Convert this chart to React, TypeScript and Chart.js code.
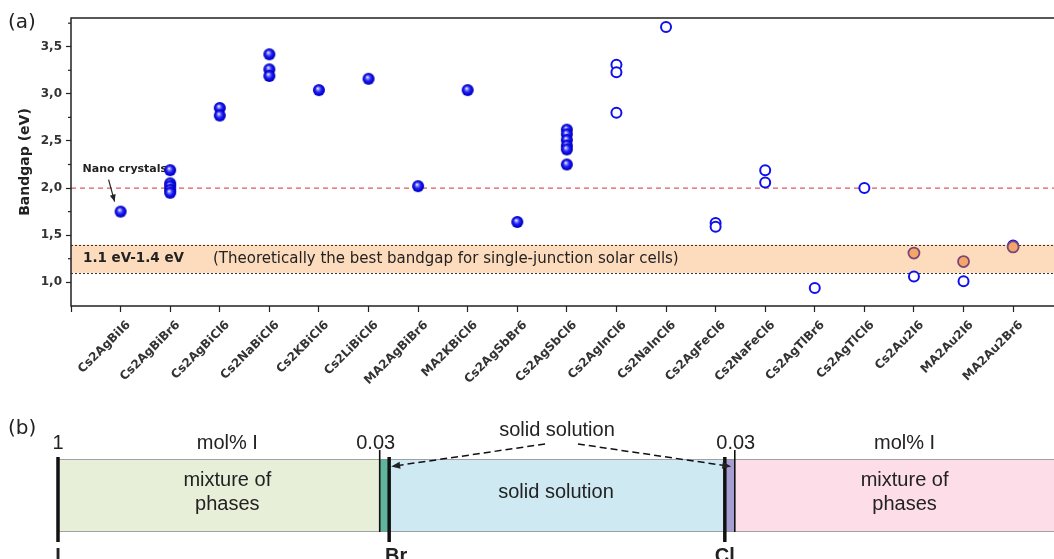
import React, { useEffect, useRef } from 'react';
import { Chart, registerables } from 'chart.js';

Chart.register(...registerables);

// ---------------- Panel (a) data ----------------
const categories = [
  'Cs2AgBiI6', 'Cs2AgBiBr6', 'Cs2AgBiCl6', 'Cs2NaBiCl6', 'Cs2KBiCl6', 'Cs2LiBiCl6',
  'MA2AgBiBr6', 'MA2KBiCl6', 'Cs2AgSbBr6', 'Cs2AgSbCl6', 'Cs2AgInCl6', 'Cs2NaInCl6',
  'Cs2AgFeCl6', 'Cs2NaFeCl6', 'Cs2AgTlBr6', 'Cs2AgTlCl6', 'Cs2Au2I6', 'MA2Au2I6', 'MA2Au2Br6',
];

// filled (sphere) markers, one list per category
const solidBandgaps: number[][] = [
  [1.75], [2.19, 2.05, 2.02, 1.98, 1.95], [2.85, 2.77], [3.42, 3.26, 3.19], [3.04], [3.16],
  [2.02], [3.04], [1.64], [2.62, 2.57, 2.51, 2.45, 2.41, 2.25],
  [], [], [], [], [], [], [], [], [],
];

// open circle markers
const openBandgaps: number[][] = [
  [], [], [], [], [], [], [], [], [], [],
  [3.31, 3.23, 2.80], [3.71], [1.63, 1.59], [2.19, 2.06], [0.94], [2.0], [1.06], [1.01], [1.39],
];

// orange filled markers
const orangeBandgaps: number[][] = [
  [], [], [], [], [], [], [], [], [], [], [], [], [], [], [], [],
  [1.31], [1.22], [1.375],
];

const yRange = [0.748, 3.805];
const optimalRange = [1.1, 1.4];
const referenceGap = 2.0;
const bandLabel = '1.1 eV-1.4 eV';
const bandNote = '(Theoretically the best bandgap for single-junction solar cells)';
const annotationText = 'Nano crystals';

// ---------------- Panel (b) data ----------------
const phaseNames = ['mixture of phases', 'I in Br', 'solid solution', 'I in Cl', 'mixture of phases'];
const phaseBounds = [0, 32.3, 33.25, 66.95, 67.95, 100];
const phaseLabelAt = [17.0, -1, 50.0, -1, 85.0];
const endMembers = ['I', 'Br', 'Cl'];
const endMemberAt = [0, 33.25, 66.95];
const limitLabels = ['0.03', '0.03'];
const limitAt = [32.3, 67.95];
const headerLabels = ['1', 'mol% I', 'mol% I'];
const headerAt = [0, 17.0, 85.0];
const arrowStarts = [48.9, 52.2];
const arrowTips = [33.45, 67.6];

const phaseColors = ['#e8efd9', '#5fb59c', '#cfe9f3', '#a69dd0', '#fcdde8'];

const WIDE = '"DejaVu Sans", sans-serif';
const ARIAL = '"Liberation Sans", Arial, sans-serif';

function toPoints(groups: number[][]) {
  return groups.flatMap((vals, i) => vals.map((v) => ({ x: i, y: v })));
}

function makeBall(r: number) {
  const c = document.createElement('canvas');
  const s = Math.ceil(r * 2 + 2);
  c.width = s;
  c.height = s;
  const g = c.getContext('2d')!;
  const cx = s / 2;
  const cy = s / 2;
  const grad = g.createRadialGradient(cx - 1.2, cy - 1.8, 0.2, cx, cy, r);
  grad.addColorStop(0, '#ffffff');
  grad.addColorStop(0.2, '#8f8fff');
  grad.addColorStop(0.5, '#2222f2');
  grad.addColorStop(0.85, '#0000d6');
  grad.addColorStop(1, '#0000a6');
  g.fillStyle = grad;
  g.beginPath();
  g.arc(cx, cy, r, 0, Math.PI * 2);
  g.fill();
  return c;
}

const panelAPlugin = {
  id: 'panelA',
  beforeDatasetsDraw(chart: any) {
    const { ctx, chartArea: a, scales } = chart;
    const x = scales.x;
    const y = scales.y;
    ctx.save();
    const yTop = y.getPixelForValue(optimalRange[1]);
    const yBot = y.getPixelForValue(optimalRange[0]);
    ctx.fillStyle = '#fddcbd';
    ctx.fillRect(a.left, yTop, a.right - a.left, yBot - yTop);
    ctx.strokeStyle = '#333';
    ctx.lineWidth = 1;
    ctx.setLineDash([2, 2]);
    [yTop, yBot].forEach((py: number) => {
      ctx.beginPath();
      ctx.moveTo(a.left, Math.round(py) + 0.5);
      ctx.lineTo(a.right, Math.round(py) + 0.5);
      ctx.stroke();
    });
    const yr = y.getPixelForValue(referenceGap);
    ctx.strokeStyle = '#e05a5a';
    ctx.lineWidth = 1.3;
    ctx.setLineDash([5, 4]);
    ctx.beginPath();
    ctx.moveTo(a.left, yr);
    ctx.lineTo(a.right, yr);
    ctx.stroke();
    ctx.setLineDash([]);

    ctx.fillStyle = '#222';
    ctx.textBaseline = 'middle';
    ctx.textAlign = 'left';
    const ym = (yTop + yBot) / 2;
    ctx.font = `bold 13.5px ${WIDE}`;
    ctx.fillText(bandLabel, a.left + 12, ym);
    ctx.font = `15px ${WIDE}`;
    ctx.fillText(bandNote, a.left + 142, ym);

    // annotation
    const px = x.getPixelForValue(0);
    const py = y.getPixelForValue(solidBandgaps[0][0]);
    ctx.font = `bold 11px ${WIDE}`;
    ctx.fillStyle = '#222';
    ctx.fillText(annotationText, px - 38, py - 42);
    const sx = px - 12;
    const sy = py - 32;
    const tx = px - 6;
    const ty = py - 10;
    ctx.strokeStyle = '#222';
    ctx.lineWidth = 1.2;
    ctx.beginPath();
    ctx.moveTo(sx, sy);
    ctx.lineTo(tx, ty);
    ctx.stroke();
    const ang = Math.atan2(ty - sy, tx - sx);
    ctx.beginPath();
    ctx.moveTo(tx, ty);
    ctx.lineTo(tx - 7 * Math.cos(ang) + 3 * Math.sin(ang), ty - 7 * Math.sin(ang) - 3 * Math.cos(ang));
    ctx.lineTo(tx - 7 * Math.cos(ang) - 3 * Math.sin(ang), ty - 7 * Math.sin(ang) + 3 * Math.cos(ang));
    ctx.closePath();
    ctx.fill();
    ctx.restore();
  },
  afterDraw(chart: any) {
    const { ctx, chartArea: a, scales } = chart;
    const y = scales.y;
    ctx.save();
    ctx.strokeStyle = '#222';
    ctx.lineWidth = 1.5;
    ctx.beginPath();
    ctx.moveTo(a.right, a.top);
    ctx.lineTo(a.left, a.top);
    ctx.lineTo(a.left, a.bottom);
    ctx.lineTo(a.right, a.bottom);
    ctx.stroke();
    // minor ticks
    ctx.lineWidth = 1.2;
    y.ticks
      .map((t: any) => t.value + 0.25)
      .filter((v: number) => v < y.max)
      .forEach((v: number) => {
        const py = y.getPixelForValue(v);
        ctx.beginPath();
        ctx.moveTo(a.left - 3, py);
        ctx.lineTo(a.left, py);
        ctx.stroke();
      });
    ctx.fillStyle = '#222';
    ctx.font = `20px ${WIDE}`;
    ctx.textAlign = 'left';
    ctx.textBaseline = 'middle';
    ctx.fillText('(a)', 8, 23);
    ctx.restore();
  },
};

const panelBPlugin = {
  id: 'panelB',
  afterDatasetsDraw(chart: any) {
    const { ctx, chartArea: a, scales } = chart;
    const x = scales.x;
    const px = (v: number) => x.getPixelForValue(v);
    ctx.save();
    ctx.strokeStyle = '#111';
    // solubility limit lines
    ctx.lineWidth = 1.6;
    limitAt.forEach((v) => {
      ctx.beginPath();
      ctx.moveTo(px(v), a.top - 9);
      ctx.lineTo(px(v), a.bottom);
      ctx.stroke();
    });
    // end-member lines
    ctx.lineWidth = 3.5;
    endMemberAt.forEach((v) => {
      ctx.beginPath();
      ctx.moveTo(px(v), a.top - 2);
      ctx.lineTo(px(v), a.bottom + 10);
      ctx.stroke();
    });

    ctx.fillStyle = '#222';
    ctx.textAlign = 'center';
    ctx.textBaseline = 'middle';
    ctx.font = `20px ${ARIAL}`;
    headerLabels.forEach((t, i) => ctx.fillText(t, px(headerAt[i]), a.top - 16));
    ctx.fillText(limitLabels[0], px(limitAt[0]) - 4, a.top - 16);
    ctx.fillText(limitLabels[1], px(limitAt[1]) + 1, a.top - 16);
    ctx.fillText('solid solution', px(50.1), a.top - 29);

    phaseNames.forEach((name, i) => {
      if (phaseLabelAt[i] < 0) return;
      if (name === 'mixture of phases') {
        ctx.fillText('mixture of', px(phaseLabelAt[i]), a.top + 21);
        ctx.fillText('phases', px(phaseLabelAt[i]), a.top + 45);
      } else {
        ctx.fillText(name, px(phaseLabelAt[i]), a.top + 33);
      }
    });

    ctx.font = `bold 20px ${ARIAL}`;
    ctx.textBaseline = 'alphabetic';
    endMembers.forEach((t, i) => {
      const off = t === 'Br' ? 7 : 0;
      ctx.fillText(t, px(endMemberAt[i]) + off, a.bottom + 30);
    });

    // dashed arrows
    ctx.strokeStyle = '#111';
    ctx.lineWidth = 1.5;
    arrowStarts.forEach((s, i) => {
      const sx = px(s);
      const sy = a.top - 15;
      const tx = px(arrowTips[i]);
      const ty = a.top + 7.5;
      const ang = Math.atan2(ty - sy, tx - sx);
      ctx.setLineDash([7, 4]);
      ctx.beginPath();
      ctx.moveTo(sx, sy);
      ctx.lineTo(tx - 6 * Math.cos(ang), ty - 6 * Math.sin(ang));
      ctx.stroke();
      ctx.setLineDash([]);
      ctx.beginPath();
      ctx.moveTo(tx, ty);
      ctx.lineTo(tx - 9 * Math.cos(ang) + 3.5 * Math.sin(ang), ty - 9 * Math.sin(ang) - 3.5 * Math.cos(ang));
      ctx.lineTo(tx - 9 * Math.cos(ang) - 3.5 * Math.sin(ang), ty - 9 * Math.sin(ang) + 3.5 * Math.cos(ang));
      ctx.closePath();
      ctx.fill();
    });

    ctx.font = `20px ${WIDE}`;
    ctx.textAlign = 'left';
    ctx.textBaseline = 'middle';
    ctx.fillText('(b)', 8, 29);
    ctx.restore();
  },
};

export default function App() {
  const topRef = useRef<HTMLCanvasElement>(null);
  const botRef = useRef<HTMLCanvasElement>(null);

  useEffect(() => {
    document.body.style.margin = '0';
    const ball = makeBall(6);

    const c1 = new Chart(topRef.current!, {
      type: 'scatter',
      data: {
        datasets: [
          {
            label: 'orange',
            data: toPoints(orangeBandgaps),
            pointStyle: 'circle',
            pointRadius: 5.5,
            pointBorderWidth: 1.8,
            pointBackgroundColor: '#f2a66a',
            pointBorderColor: '#7c4676',
            order: 1,
          },
          {
            label: 'open',
            data: toPoints(openBandgaps),
            pointStyle: 'circle',
            pointRadius: 5,
            pointBorderWidth: 2,
            pointBackgroundColor: '#ffffff',
            pointBorderColor: '#1010ee',
            order: 2,
          },
          {
            label: 'solid',
            data: toPoints(solidBandgaps),
            pointStyle: ball as any,
            pointRadius: 6,
            order: 3,
          },
        ],
      },
      options: {
        responsive: false,
        animation: false,
        devicePixelRatio: 1,
        layout: { padding: { top: 18, right: 7, left: 0, bottom: 0 } },
        plugins: { legend: { display: false }, tooltip: { enabled: false } },
        scales: {
          x: {
            type: 'linear',
            min: -1,
            max: 19,
            afterFit: (s: any) => {
              s.height = 94;
              s.paddingLeft = 0;
              s.paddingRight = 0;
            },
            border: { display: false },
            grid: { drawOnChartArea: false, drawTicks: true, tickLength: 6, tickColor: '#222', tickWidth: 1.2 },
            ticks: {
              stepSize: 1,
              maxTicksLimit: 100,
              autoSkip: false,
              maxRotation: 45,
              minRotation: 45,
              includeBounds: false,
              padding: 6,
              labelOffset: 8,
              color: '#333',
              font: { family: WIDE, size: 12, weight: 'bold' },
              callback: (v: any) => (Number.isInteger(v) && categories[v] ? categories[v] : ''),
            },
          },
          y: {
            type: 'linear',
            min: yRange[0],
            max: yRange[1],
            afterFit: (s: any) => {
              s.width = 71;
              s.paddingTop = 0;
              s.paddingBottom = 0;
            },
            border: { display: false },
            grid: { drawOnChartArea: false, drawTicks: true, tickLength: 5, tickColor: '#222', tickWidth: 1.2 },
            ticks: {
              stepSize: 0.5,
              includeBounds: false,
              padding: 4,
              color: '#333',
              font: { family: WIDE, size: 12, weight: 'bold' },
              callback: (v: any) => Number(v).toFixed(1).replace('.', ','),
            },
            title: {
              display: true,
              text: 'Bandgap (eV)',
              color: '#222',
              font: { family: WIDE, size: 14, weight: 'bold' },
              padding: { top: 17, bottom: 0 },
            },
          },
        },
      } as any,
      plugins: [panelAPlugin],
    });

    const c2 = new Chart(botRef.current!, {
      type: 'bar',
      data: {
        labels: ['composition'],
        datasets: phaseNames.map((name, i) => ({
          label: name,
          data: [[phaseBounds[i], phaseBounds[i + 1]]],
          backgroundColor: phaseColors[i],
          borderColor: '#8a8a8a',
          borderWidth: { top: 1, bottom: 1, left: 0, right: 0 },
          borderSkipped: false,
          grouped: false,
          barPercentage: 1,
          categoryPercentage: 1,
        })) as any,
      },
      options: {
        indexAxis: 'y',
        responsive: false,
        animation: false,
        devicePixelRatio: 1,
        layout: { padding: { top: 59, bottom: 27, left: 58, right: 0 } },
        plugins: { legend: { display: false }, tooltip: { enabled: false } },
        scales: {
          x: { type: 'linear', min: 0, max: 100, display: false },
          y: { type: 'category', display: false },
        },
      } as any,
      plugins: [panelBPlugin],
    });

    return () => {
      c1.destroy();
      c2.destroy();
    };
  }, []);

  return (
    <div style={{ position: 'relative', width: 1054, height: 559, overflow: 'hidden', background: '#fff' }}>
      <canvas
        ref={topRef}
        width={1070}
        height={400}
        style={{ position: 'absolute', left: 0, top: 0, width: 1070, height: 400 }}
      />
      <canvas
        ref={botRef}
        width={1054}
        height={159}
        style={{ position: 'absolute', left: 0, top: 400, width: 1054, height: 159 }}
      />
    </div>
  );
}
